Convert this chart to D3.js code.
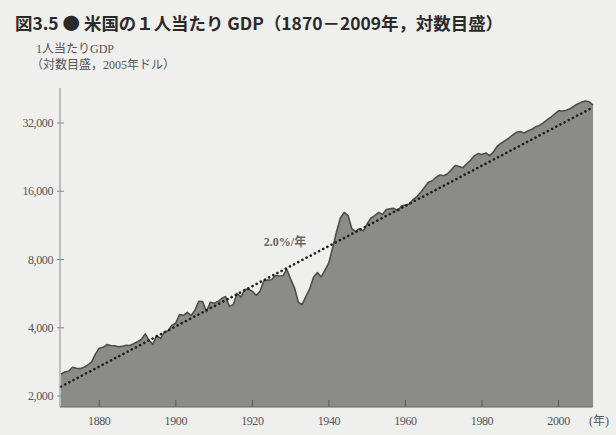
<!DOCTYPE html>
<html>
<head>
<meta charset="utf-8">
<script src="https://cdn.jsdelivr.net/npm/d3@7"></script>
<style>
  html, body { margin: 0; padding: 0; background: #efefed; }
  svg { display: block; }
</style>
</head>
<body>
<svg id="chart" width="616" height="435"></svg>
<script>
// 1人当たりGDP, 2005年ドル
var years = d3.range(1870, 2010);
var gdp = [
  2500, 2550, 2570, 2680, 2650, 2640, 2680, 2740, 2830, 3060,
  3250, 3280, 3370, 3340, 3330, 3300, 3310, 3350, 3340, 3400,
  3470, 3550, 3760, 3520, 3380, 3700, 3580, 3830, 3880, 4100,
  4200, 4580, 4540, 4680, 4530, 4780, 5230, 5220, 4700, 5180,
  5130, 5220, 5380, 5490, 4970, 5050, 5670, 5460, 5890, 5920,
  5790, 5560, 5790, 6450, 6490, 6510, 6800, 6770, 6780, 7250,
  6550, 6000, 5180, 5060, 5500, 5950, 6700, 7000, 6700, 7200,
  7750, 9050, 10600, 12200, 12900, 12500, 10900, 10650, 10950, 10700,
  11500, 12200, 12500, 12900, 12650, 13300, 13400, 13450, 13100, 13800,
  13900, 14050, 14700, 15150, 15850, 16650, 17530, 17800, 18450, 18880,
  18730, 19120, 19910, 20800, 20560, 20290, 21160, 21910, 22930, 23460,
  23230, 23590, 22940, 23860, 25270, 26060, 26750, 27420, 28330, 29110,
  29360, 28910, 29530, 30010, 30790, 31230, 32030, 33000, 33920, 35080,
  36180, 36130, 36390, 36980, 37930, 38800, 39550, 39980, 39700, 38400
];
// trend line endpoints (2.0%/年)
var trendYears = [1870, 2009];
var trendValues = [2200, 37500];

var yTicks = [2000, 4000, 8000, 16000, 32000];
var xTicks = [1880, 1900, 1920, 1940, 1960, 1980, 2000];

var data = years.map(function (y, i) { return { year: y, v: gdp[i] }; });
var trend = trendYears.map(function (y, i) { return { year: y, v: trendValues[i] }; });

var svg = d3.select("#chart");
var serif = "'Liberation Serif', 'Noto Sans CJK JP', serif";
var sans = "'Noto Sans CJK JP', 'Noto Sans', sans-serif";

var x = d3.scaleLinear().domain([1870, 2009]).range([61, 593]);
var y = d3.scaleLog().domain([2000, 32000]).range([396, 123]);
var bottom = 407;

// title
svg.append("text")
  .attr("x", 15).attr("y", 30)
  .attr("font-family", sans).attr("font-weight", "bold")
  .attr("font-size", 17).attr("fill", "#2a2a2a")
  .attr("textLength", 488).attr("lengthAdjust", "spacingAndGlyphs")
  .text("図3.5 ● 米国の１人当たり GDP（1870－2009年，対数目盛）");

svg.append("text")
  .attr("x", 36).attr("y", 53)
  .attr("font-family", serif).attr("font-size", 12).attr("fill", "#555")
  .text("1人当たりGDP");
svg.append("text")
  .attr("x", 31).attr("y", 69)
  .attr("font-family", serif).attr("font-size", 12).attr("fill", "#555")
  .text("（対数目盛，2005年ドル）");

// area
var area = d3.area()
  .x(function (d) { return x(d.year); })
  .y0(bottom)
  .y1(function (d) { return y(d.v); });
svg.append("path")
  .datum(data)
  .attr("d", area)
  .attr("fill", "#8b8b89");

var line = d3.line()
  .x(function (d) { return x(d.year); })
  .y(function (d) { return y(d.v); });
svg.append("path")
  .datum(data)
  .attr("d", line)
  .attr("fill", "none")
  .attr("stroke", "#4e4e4e")
  .attr("stroke-width", 1.6)
  .attr("stroke-linejoin", "round");

// trend (dotted)
svg.append("path")
  .datum(trend)
  .attr("d", line)
  .attr("fill", "none")
  .attr("stroke", "#1e1e1e")
  .attr("stroke-width", 2.6)
  .attr("stroke-linecap", "round")
  .attr("stroke-dasharray", "0.1,4.6");

svg.append("text")
  .attr("x", 285).attr("y", 246)
  .attr("text-anchor", "middle")
  .attr("font-family", serif).attr("font-weight", "bold")
  .attr("font-size", 12).attr("fill", "#666")
  .text("2.0%/年");

// y axis
var yAxis = svg.append("g");
yAxis.append("line")
  .attr("x1", 60).attr("x2", 60).attr("y1", 88).attr("y2", bottom)
  .attr("stroke", "#8a8a8a").attr("stroke-width", 1);
yAxis.selectAll("line.tick").data(yTicks).enter().append("line")
  .attr("class", "tick")
  .attr("x1", 57).attr("x2", 64)
  .attr("y1", function (d) { return y(d); })
  .attr("y2", function (d) { return y(d); })
  .attr("stroke", "#8a8a8a");
yAxis.selectAll("text").data(yTicks).enter().append("text")
  .attr("x", 53)
  .attr("y", function (d) { return y(d) + 4; })
  .attr("text-anchor", "end")
  .attr("font-family", serif).attr("font-size", 12).attr("fill", "#555")
  .attr("letter-spacing", -0.4)
  .text(function (d) { return d3.format(",")(d); });

// x axis
var xAxis = svg.append("g");
xAxis.append("line")
  .attr("x1", 60).attr("x2", x(2009)).attr("y1", bottom).attr("y2", bottom)
  .attr("stroke", "#666");
xAxis.selectAll("line.tick").data(xTicks).enter().append("line")
  .attr("class", "tick")
  .attr("x1", function (d) { return x(d); })
  .attr("x2", function (d) { return x(d); })
  .attr("y1", bottom).attr("y2", bottom - 7)
  .attr("stroke", "#5a5a5a");
xAxis.selectAll("text").data(xTicks).enter().append("text")
  .attr("x", function (d) { return x(d); })
  .attr("y", 425)
  .attr("text-anchor", "middle")
  .attr("font-family", serif).attr("font-size", 12).attr("fill", "#555")
  .attr("letter-spacing", -0.4)
  .text(function (d) { return d; });
svg.append("text")
  .attr("x", 589).attr("y", 425)
  .attr("font-family", serif).attr("font-size", 12).attr("fill", "#555")
  .text("(年)");
</script>
</body>
</html>
